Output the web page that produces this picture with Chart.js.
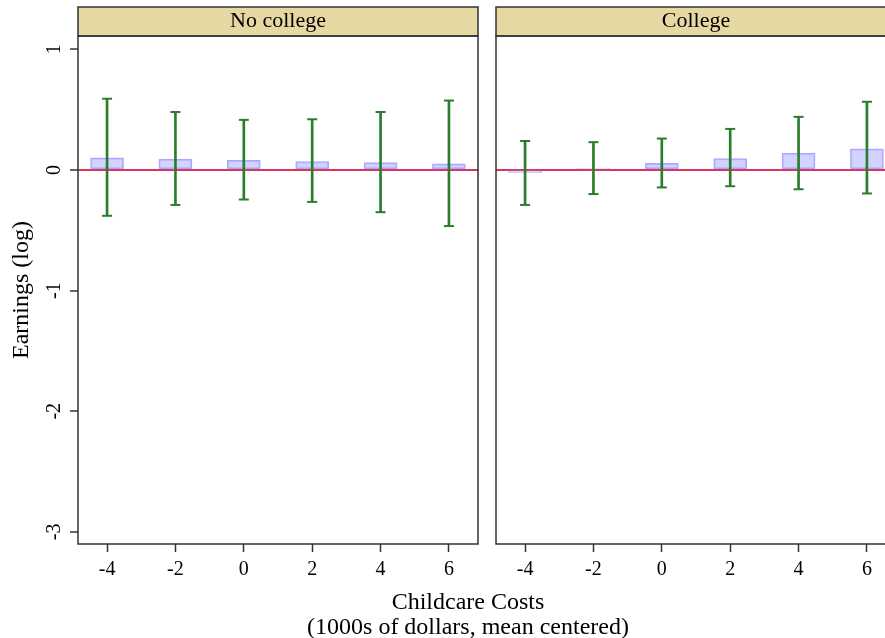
<!DOCTYPE html>
<html>
<head>
<meta charset="utf-8">
<script src="https://cdn.jsdelivr.net/npm/chart.js@4/dist/chart.umd.min.js"></script>
<style>
    html, body { margin: 0; padding: 0; background: #fff; overflow: hidden; width: 885px; height: 638px; }
    #noCollege { position: absolute; left: 0; top: 0; }
    #college { position: absolute; left: 487px; top: 0; }
    #xTitle {
        position: absolute; left: 268px; top: 589px; width: 400px;
        text-align: center; font-family: "Liberation Serif"; font-size: 24px; line-height: 25px; color: #000;
    }
</style>
</head>
<body>
<canvas id="noCollege" width="487" height="638"></canvas>
<canvas id="college" width="418" height="638"></canvas>
<div id="xTitle">Childcare Costs<br>(1000s of dollars, mean centered)</div>
<script>
const xTicks = [-4, -2, 0, 2, 4, 6];
const yTicks = [-3, -2, -1, 0, 1];

const noCollegeMean = [0.10, 0.09, 0.08, 0.07, 0.06, 0.05];
const noCollegeLow = [-0.38, -0.29, -0.245, -0.265, -0.35, -0.465];
const noCollegeHigh = [0.59, 0.48, 0.415, 0.42, 0.48, 0.575];

const collegeMean = [-0.02, 0.012, 0.055, 0.095, 0.14, 0.175];
const collegeLow = [-0.29, -0.20, -0.145, -0.135, -0.16, -0.195];
const collegeHigh = [0.24, 0.23, 0.26, 0.34, 0.44, 0.565];

const xRange = [-4.85, 6.85];
const yRange = [-3.1, 1.11];

const fontFamily = 'Liberation Serif';
const green = '#2b7d2b';
const zeroLine = '#d9355f';
const stripColor = '#e5d8a2';

Chart.defaults.font.family = fontFamily;
Chart.defaults.color = '#000';

// strip behind the panel title + box around strip and plot area
const panelFrame = {
    id: 'panelFrame',
    beforeDraw(chart) {
        const a = chart.chartArea;
        const t = chart.titleBlock;
        const ctx = chart.ctx;
        ctx.save();
        ctx.fillStyle = stripColor;
        ctx.fillRect(a.left, t.top, a.right - a.left, a.top - t.top);
        ctx.restore();
    },
    afterDraw(chart) {
        const a = chart.chartArea;
        const t = chart.titleBlock;
        const ctx = chart.ctx;
        ctx.save();
        ctx.lineWidth = 1.5;
        ctx.strokeStyle = '#333';
        ctx.strokeRect(a.left, t.top, a.right - a.left, a.top - t.top);
        ctx.strokeRect(a.left, a.top, a.right - a.left, a.bottom - a.top);
        ctx.restore();
    }
};

function makePanel(canvasId, title, mean, low, high, showY) {
    const caps = xTicks.map((x, i) => ({x: x, y: low[i]}))
        .concat(xTicks.map((x, i) => ({x: x, y: high[i]})));

    return new Chart(canvasId, {
        type: 'bar',
        data: {
            datasets: [{
                data: xTicks.map((x, i) => ({x: x, y: mean[i]})),
                backgroundColor: 'rgba(200,200,255,0.8)',
                borderColor: 'rgba(160,160,255,0.9)',
                borderWidth: 1.5,
                borderSkipped: false,
                barThickness: 33,
                grouped: false,
                order: 3
            }, {
                data: xTicks.map((x, i) => ({x: x, y: [low[i], high[i]]})),
                backgroundColor: green,
                borderWidth: 0,
                barThickness: 2,
                grouped: false,
                order: 2
            }, {
                type: 'scatter',
                data: caps,
                pointStyle: 'line',
                pointRadius: 5,
                borderColor: green,
                borderWidth: 2,
                order: 1
            }]
        },
        options: {
            responsive: false,
            animation: false,
            events: [],
            layout: {
                padding: {top: 7, right: 9, bottom: 0, left: showY ? 0 : 9}
            },
            plugins: {
                legend: {display: false},
                tooltip: {enabled: false},
                title: {
                    display: true,
                    text: title,
                    fullSize: false,
                    color: '#000',
                    font: {family: fontFamily, size: 22, weight: 'normal'},
                    padding: {top: 1.3, bottom: 1.3}
                }
            },
            scales: {
                x: {
                    type: 'linear',
                    min: xRange[0],
                    max: xRange[1],
                    offset: false,
                    afterBuildTicks: s => { s.ticks = xTicks.map(v => ({value: v})); },
                    afterFit: s => { s.height = 94; },
                    border: {display: false},
                    grid: {offset: false, drawOnChartArea: false, drawTicks: true, tickLength: 8, tickColor: '#333', tickWidth: 1.5},
                    ticks: {font: {size: 20}, color: '#000', padding: 6, maxRotation: 0, autoSkip: false}
                },
                y: {
                    type: 'linear',
                    min: yRange[0],
                    max: yRange[1],
                    afterBuildTicks: s => { s.ticks = yTicks.map(v => ({value: v})); },
                    afterFit: s => { s.width = showY ? 78 : 0; },
                    border: {display: false},
                    grid: {
                        color: ctx => (ctx.tick && ctx.tick.value === 0) ? zeroLine : 'rgba(0,0,0,0)',
                        lineWidth: 2,
                        drawTicks: showY,
                        tickLength: 8,
                        tickColor: '#333',
                        tickWidth: 1.5
                    },
                    ticks: {
                        display: showY,
                        font: {size: 20},
                        color: '#000',
                        minRotation: 90,
                        maxRotation: 90,
                        crossAlign: 'center',
                        padding: 7,
                        autoSkip: false
                    },
                    title: {
                        display: showY,
                        text: 'Earnings (log)',
                        color: '#000',
                        font: {size: 24},
                        padding: {top: 7, bottom: 0}
                    }
                }
            }
        },
        plugins: [panelFrame]
    });
}

makePanel('noCollege', 'No college', noCollegeMean, noCollegeLow, noCollegeHigh, true);
makePanel('college', 'College', collegeMean, collegeLow, collegeHigh, false);
</script>
</body>
</html>
